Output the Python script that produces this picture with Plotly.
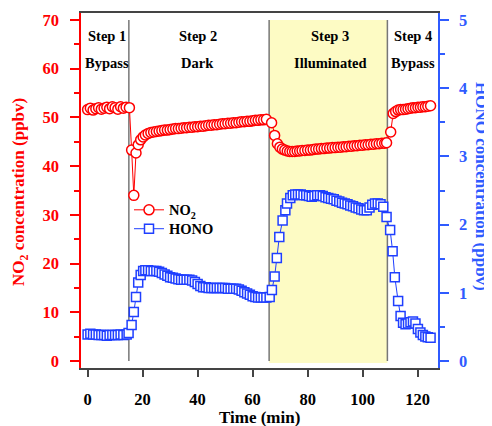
import plotly.graph_objects as go

# ---------------- data ----------------
t_no2 = [0, 1, 2, 3, 4, 5, 6, 7, 8, 9, 10, 11, 12, 13, 14, 15.2,
         16.0, 16.8, 17.6, 18.4, 19.3, 20.2, 21, 22, 23, 24, 25, 26, 27, 28, 29, 30,
         31, 32, 33, 34, 35, 36, 37, 38, 39, 40, 41, 42, 43, 44, 45, 46, 47, 48, 49, 50,
         51, 52, 53, 54, 55, 56, 57, 58, 59, 60, 61, 62, 63, 64, 65, 66.9,
         68.0, 69.0, 69.9, 70.8, 71.7, 72.6, 73.5, 74.4, 75.3, 76.2, 77.1, 78, 79, 80,
         81, 82, 83, 84, 85, 86, 87, 88, 89, 90, 91, 92, 93, 94, 95, 96, 97, 98, 99, 100,
         101, 102, 103, 104, 105, 106, 107, 108, 108.7,
         110.2, 111.1, 112.0, 112.9, 113.8, 114.7, 115.6, 116.5, 117.4, 118.3, 119.2,
         120.1, 121.0, 121.9, 122.8, 123.7, 124.7]
no2 = [51.6, 51.9, 51.5, 51.8, 52.0, 51.7, 51.9, 52.1, 51.8, 52.2, 52.0, 51.7, 52.2, 51.9, 52.1, 52.0,
       43.3, 34.0, 42.7, 44.4, 45.4, 46.0, 46.4, 46.7, 46.9, 47.0, 47.1, 47.2, 47.3, 47.4, 47.4, 47.5,
       47.6, 47.7, 47.7, 47.8, 47.9, 47.9, 48.0, 48.0, 48.1, 48.1, 48.2, 48.2, 48.3, 48.4, 48.4, 48.5, 48.5, 48.6, 48.7, 48.7,
       48.8, 48.8, 48.9, 48.9, 49.0, 49.1, 49.1, 49.2, 49.2, 49.3, 49.4, 49.4, 49.5, 49.5, 49.6, 48.9,
       46.3, 44.6, 43.9, 43.5, 43.3, 43.1, 43.0, 43.0, 43.0, 43.1, 43.1, 43.2, 43.2, 43.3,
       43.3, 43.4, 43.5, 43.5, 43.6, 43.6, 43.7, 43.7, 43.8, 43.8, 43.9, 43.9, 44.0, 44.0, 44.1, 44.1, 44.2, 44.2, 44.3, 44.3,
       44.4, 44.4, 44.5, 44.5, 44.6, 44.6, 44.7, 44.7, 44.8,
       47.0, 50.8, 51.2, 51.5, 51.6, 51.6, 51.7, 51.8, 51.9, 52.0, 52.0,
       52.1, 52.1, 52.2, 52.2, 52.3, 52.4]

t_hono = [0, 1, 2, 3, 4, 5, 6, 7, 8, 9, 10, 11, 12, 13, 14.2, 14.9,
          16.0, 16.8, 17.6, 18.4, 19.3, 20.2, 21, 22, 23, 24, 25, 26, 27, 28, 29, 30,
          31, 32, 33, 34, 35, 36, 37, 38, 39, 40, 41, 42, 43, 44, 45, 46, 47, 48, 49, 50,
          51, 52, 53, 54, 55, 56, 57, 58, 59, 60, 61, 62, 63, 64, 65, 66.2,
          67.0, 68.0, 68.8, 69.7, 70.9, 71.9, 72.5, 73.7, 74.6, 75.5, 76.5, 77.5, 78.5, 79.5,
          80.5, 81.5, 82.5, 83.5, 84.5, 85.5, 86.5, 87.5, 88.5, 89.5, 90.5, 91.5, 92.5, 93.5,
          94.5, 95.5, 96.5, 97.5, 98.5, 99.5, 100.5, 101.5, 102.5, 103.5, 104.5, 105.5, 106.5,
          107.5, 108.7, 110.0, 110.9, 111.7, 112.9, 113.8, 114.7, 115.6, 116.5, 117.4, 118.3,
          119.2, 120.1, 121.0, 121.9, 122.8, 123.7, 124.7]
hono = [0.39, 0.40, 0.39, 0.39, 0.38, 0.38, 0.38, 0.37, 0.38, 0.38, 0.38, 0.38, 0.39, 0.38, 0.39, 0.41,
        0.53, 0.72, 0.94, 1.15, 1.26, 1.32, 1.33, 1.33, 1.32, 1.32, 1.32, 1.31, 1.29, 1.27, 1.25, 1.23,
        1.22, 1.21, 1.20, 1.19, 1.19, 1.19, 1.19, 1.18, 1.16, 1.13, 1.10, 1.08, 1.08, 1.07, 1.07, 1.07, 1.07, 1.07, 1.07, 1.07,
        1.06, 1.06, 1.06, 1.06, 1.05, 1.03, 1.01, 0.99, 0.97, 0.95, 0.94, 0.93, 0.93, 0.93, 0.93, 0.94,
        1.04, 1.24, 1.51, 1.82, 2.06, 2.21, 2.31, 2.39, 2.43, 2.44, 2.44, 2.44, 2.43, 2.43,
        2.42, 2.41, 2.42, 2.43, 2.43, 2.42, 2.40, 2.39, 2.38, 2.37, 2.35, 2.34, 2.32, 2.31,
        2.30, 2.28, 2.27, 2.25, 2.24, 2.22, 2.21, 2.21, 2.25, 2.29, 2.31, 2.31, 2.30,
        2.26, 2.11, 1.92, 1.61, 1.23, 0.88, 0.66, 0.56, 0.54, 0.55, 0.57, 0.58,
        0.55, 0.47, 0.42, 0.38, 0.36, 0.35, 0.34]

step_bounds = [15, 66, 109]
step_x = [7.0, 40.0, 88.3, 118.2]
step_names = ["Step 1", "Step 2", "Step 3", "Step 4"]
step_modes = ["Bypass", "Dark", "Illuminated", "Bypass"]
x_ticks = [0, 20, 40, 60, 80, 100, 120]
no2_ticks = [0, 10, 20, 30, 40, 50, 60, 70]
hono_ticks = [0, 1, 2, 3, 4, 5]

# ---------------- styling ----------------
SERIF = "Liberation Serif, Times New Roman, serif"
RED = "#ff0000"
BLUE = "#1f3fff"
BLUE_AX = "#2f5bff"
DARK = "#444444"

# page body has an 8px margin, so the figure is drawn 8px in from the corner
W, H = 484, 418
L, T, PW, PH = 73, 3, 357, 357
R, B = W - L - PW, H - T - PH


def px_x(xv):
    return (xv - L) / PW


def px_y(yv):
    return 1 - (yv - T) / PH


fig = go.Figure()

fig.add_trace(go.Scatter(
    x=t_no2, y=no2, name="NO<sub>2</sub>", mode="lines+markers",
    line=dict(color=RED, width=1),
    marker=dict(symbol="circle", size=10, color="white", line=dict(color=RED, width=1.5)),
    yaxis="y", legend="legend"))
fig.add_trace(go.Scatter(
    x=t_hono, y=hono, name="HONO", mode="lines+markers",
    line=dict(color=BLUE, width=1),
    marker=dict(symbol="square", size=9, color="white", line=dict(color=BLUE, width=1.5)),
    yaxis="y2", legend="legend2"))

shapes = [dict(type="rect", xref="x", yref="y", x0=step_bounds[1], x1=step_bounds[2],
               y0=-0.4, y1=70, fillcolor="#fdfbc4", line=dict(width=0), layer="below")]
for b in step_bounds:
    shapes.append(dict(type="line", xref="x", yref="y", x0=b, x1=b, y0=0, y1=70,
                       line=dict(color="#777777", width=1.5), layer="below"))

annotations = []
for sx, nm, md in zip(step_x, step_names, step_modes):
    annotations.append(dict(x=sx, y=66.8, xref="x", yref="y", text=nm, showarrow=False,
                            font=dict(family=SERIF, size=14.5, color="black", weight="bold")))
    annotations.append(dict(x=sx, y=61.2, xref="x", yref="y", text=md, showarrow=False,
                            font=dict(family=SERIF, size=14.5, color="black", weight="bold")))

annotations.append(dict(x=px_x(12), y=px_y(183), xref="paper", yref="paper",
                        text="NO<sub>2</sub> concentration (ppbv)", textangle=-90, showarrow=False,
                        xanchor="center", yanchor="middle",
                        font=dict(family=SERIF, size=17, color=RED, weight="bold")))
annotations.append(dict(x=px_x(474), y=px_y(177), xref="paper", yref="paper",
                        text="HONO concentration (ppbv)", textangle=90, showarrow=False,
                        xanchor="center", yanchor="middle",
                        font=dict(family=SERIF, size=17, color=BLUE_AX, weight="bold")))
annotations.append(dict(x=0.5, y=px_y(410), xref="paper", yref="paper",
                        text="Time (min)", showarrow=False, xanchor="center", yanchor="middle",
                        font=dict(family=SERIF, size=17, color="black", weight="bold")))

legend_font = dict(family=SERIF, size=14.5, color="black", weight="bold")

fig.update_layout(
    width=W, height=H,
    margin=dict(l=L, r=R, t=T, b=B),
    paper_bgcolor="white", plot_bgcolor="white",
    showlegend=True,
    legend=dict(x=px_x(121), y=px_y(201), xanchor="left", yanchor="middle",
                bgcolor="rgba(0,0,0,0)", font=legend_font, itemwidth=30),
    legend2=dict(x=px_x(121), y=px_y(220), xanchor="left", yanchor="middle",
                 bgcolor="rgba(0,0,0,0)", font=legend_font, itemwidth=30),
    xaxis=dict(range=[-2.4, 127.4], tickvals=x_ticks, showgrid=False, zeroline=False,
               showline=True, linecolor=DARK, linewidth=1.5, mirror=True,
               ticks="outside", ticklen=7, tickwidth=1.5, tickcolor=DARK,
               ticklabelstandoff=8,
               tickfont=dict(family=SERIF, size=16.5, color="black", weight="bold")),
    yaxis=dict(range=[-1.43, 71.43], tickvals=no2_ticks, showgrid=False, zeroline=False,
               showline=True, linecolor=RED, linewidth=1.5,
               ticks="outside", ticklen=9, tickwidth=1.5, tickcolor=RED,
               minor=dict(dtick=5, ticks="outside", ticklen=5, tickwidth=1.5, tickcolor=RED),
               ticklabelstandoff=8,
               tickfont=dict(family=SERIF, size=16.5, color=RED, weight="bold")),
    yaxis2=dict(range=[-1.43 / 14, 71.43 / 14], tickvals=hono_ticks, overlaying="y", side="right",
                showgrid=False, zeroline=False, showline=True, linecolor=BLUE_AX, linewidth=1.5,
                ticks="outside", ticklen=9, tickwidth=1.5, tickcolor=BLUE_AX,
                minor=dict(dtick=0.5, ticks="outside", ticklen=5, tickwidth=1.5, tickcolor=BLUE_AX),
                ticklabelstandoff=7,
                tickfont=dict(family=SERIF, size=16.5, color=BLUE_AX, weight="bold")),
    shapes=shapes,
    annotations=annotations,
)

fig.write_html("out.html")
